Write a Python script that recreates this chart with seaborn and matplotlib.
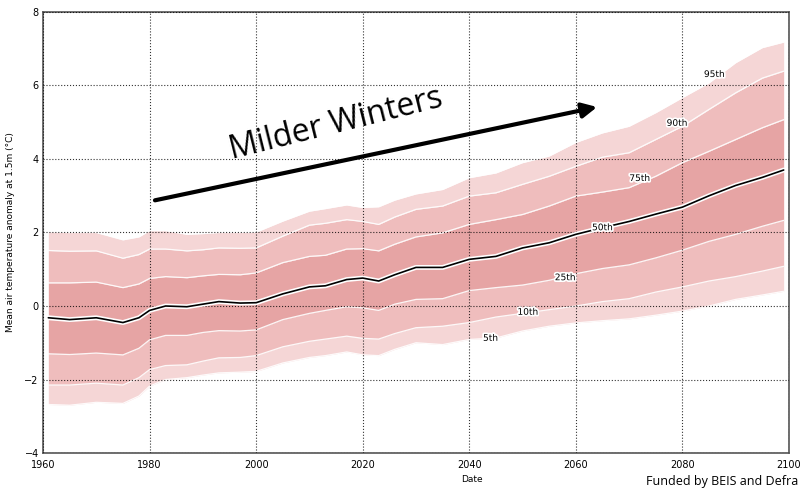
import numpy as np
import pandas as pd
import matplotlib
matplotlib.use("Agg")
import matplotlib.pyplot as plt
import matplotlib.patheffects as pe
import seaborn as sns

# ===== DATA =====
years = [1961, 1965, 1970, 1975, 1978, 1980, 1983, 1987, 1990, 1993, 1997, 2000,
         2005, 2010, 2013, 2017, 2020, 2023, 2026, 2030, 2035, 2040, 2045, 2050,
         2055, 2060, 2065, 2070, 2075, 2080, 2085, 2090, 2095, 2099]

p95 = [2.02, 2.0, 2.0, 1.8, 1.88, 2.05, 2.05, 1.95, 1.97, 2.0, 2.0, 2.01,
       2.31, 2.58, 2.65, 2.75, 2.68, 2.7, 2.88, 3.05, 3.17, 3.49, 3.62, 3.9,
       4.08, 4.45, 4.71, 4.89, 5.26, 5.67, 6.07, 6.62, 7.03, 7.18]
p90 = [1.51, 1.49, 1.5, 1.3, 1.4, 1.55, 1.55, 1.5, 1.53, 1.58, 1.57, 1.58,
       1.9, 2.2, 2.25, 2.35, 2.3, 2.22, 2.42, 2.63, 2.72, 2.99, 3.08, 3.31,
       3.53, 3.8, 4.05, 4.17, 4.53, 4.89, 5.35, 5.8, 6.2, 6.39]
p75 = [0.63, 0.63, 0.65, 0.5, 0.6, 0.75, 0.8, 0.77, 0.82, 0.86, 0.85, 0.9,
       1.18, 1.35, 1.38, 1.55, 1.56, 1.5, 1.68, 1.88, 1.99, 2.22, 2.35, 2.49,
       2.72, 2.99, 3.1, 3.22, 3.53, 3.9, 4.21, 4.53, 4.85, 5.07]
p50 = [-0.32, -0.37, -0.32, -0.45, -0.32, -0.12, 0.0, -0.02, 0.05, 0.12, 0.08, 0.09,
       0.33, 0.52, 0.55, 0.72, 0.76, 0.68, 0.85, 1.05, 1.05, 1.27, 1.35, 1.58,
       1.72, 1.95, 2.13, 2.3, 2.5, 2.69, 3.0, 3.28, 3.5, 3.7]
p25 = [-1.3, -1.32, -1.28, -1.33, -1.15, -0.92, -0.8, -0.8, -0.72, -0.67, -0.68, -0.65,
       -0.37, -0.2, -0.12, -0.02, -0.05, -0.12, 0.05, 0.18, 0.2, 0.42, 0.5, 0.57,
       0.7, 0.88, 1.02, 1.12, 1.31, 1.52, 1.76, 1.95, 2.17, 2.33]
p10 = [-2.15, -2.15, -2.1, -2.15, -1.95, -1.73, -1.62, -1.6, -1.5, -1.41, -1.4, -1.35,
       -1.11, -0.96, -0.9, -0.82, -0.88, -0.9, -0.75, -0.59, -0.55, -0.45, -0.3, -0.2,
       -0.1, 0.0, 0.12, 0.2, 0.38, 0.52, 0.68, 0.8, 0.95, 1.08]
p5 = [-2.68, -2.7, -2.62, -2.65, -2.45, -2.18, -2.0, -1.95, -1.88, -1.82, -1.8, -1.78,
      -1.55, -1.4, -1.35, -1.25, -1.33, -1.35, -1.18, -1.0, -1.05, -0.91, -0.87, -0.68,
      -0.55, -0.46, -0.4, -0.35, -0.25, -0.14, 0.0, 0.18, 0.3, 0.4]

# percentile labels sit on their curves
label_names = ["95th", "90th", "75th", "50th", "25th", "10th", "5th"]
label_years = [2086, 2079, 2072, 2065, 2058, 2051, 2044]
label_values = [6.3, 4.97, 3.47, 2.13, 0.77, -0.17, -0.88]

df = pd.DataFrame({"year": years, "5th": p5, "10th": p10, "25th": p25, "50th": p50,
                   "75th": p75, "90th": p90, "95th": p95})
long = df.melt(id_vars="year", var_name="pct", value_name="anomaly")

# ===== PLOT =====
sns.set_style("white")
plt.rcParams["font.family"] = ["DejaVu Sans"]
plt.rcParams["text.color"] = "black"
plt.rcParams["axes.labelcolor"] = "black"
plt.rcParams["xtick.color"] = "black"
plt.rcParams["ytick.color"] = "black"

fig = plt.figure(figsize=(8.01, 4.93), dpi=100)
ax = fig.add_axes([0.0537, 0.0811, 0.9313, 0.8946])

light, mid, dark = "#f5d6d6", "#efbdbd", "#e6a4a4"
bands = [("5th", "10th", light), ("10th", "25th", mid), ("25th", "75th", dark),
         ("75th", "90th", mid), ("90th", "95th", light)]
for lo, hi, c in bands:
    ax.fill_between(df["year"], df[lo], df[hi], color=c, lw=0, zorder=1)

edges = long[long["pct"] != "50th"]
sns.lineplot(data=edges, x="year", y="anomaly", units="pct", estimator=None,
             color="white", lw=0.9, alpha=0.9, ax=ax, zorder=1.5)
med = long[long["pct"] == "50th"]
sns.lineplot(data=med, x="year", y="anomaly", color="black", lw=1.2, ax=ax, zorder=3,
             path_effects=[pe.Stroke(linewidth=3.5, foreground="white"), pe.Normal()])

for name, yr, val in zip(label_names, label_years, label_values):
    ax.text(yr, val, name, fontsize=6.5, ha="center", va="center", zorder=4,
            path_effects=[pe.withStroke(linewidth=2.5, foreground="white")])

# trend arrow + headline
ax.annotate("", xy=(2064.5, 5.43), xytext=(1980.5, 2.86), zorder=5,
            arrowprops=dict(arrowstyle="-|>", lw=3, color="black", mutation_scale=22))
ax.text(2015, 4.95, "Milder Winters", rotation=14, fontsize=23, family="Open Sans",
        color="black", ha="center", va="center", rotation_mode="anchor", zorder=5)

ax.set_xlim(1960, 2100)
ax.set_ylim(-4, 8)
ax.set_xticks(range(1960, 2101, 20))
ax.set_yticks(range(-4, 9, 2))
ax.grid(True, ls=":", color="black", lw=0.8, alpha=0.8)
ax.set_axisbelow(False)
ax.tick_params(labelsize=7, direction="in", length=4)
ax.tick_params(axis="x", pad=5)
ax.tick_params(axis="y", pad=3)
for s in ax.spines.values():
    s.set_color("#555555")
    s.set_linewidth(1.2)

ax.set_xlabel("Date", fontsize=6.5)
ax.set_ylabel("Mean air temperature anomaly at 1.5m (°C)", fontsize=6.5)
ax.xaxis.set_label_coords(0.575, -0.05)
ax.yaxis.set_label_coords(-0.037, 0.5)

fig.text(0.996, 0.016, "Funded by BEIS and Defra", fontsize=9, family="Open Sans",
         ha="right", va="baseline")

fig.savefig("out.png", dpi=100)
